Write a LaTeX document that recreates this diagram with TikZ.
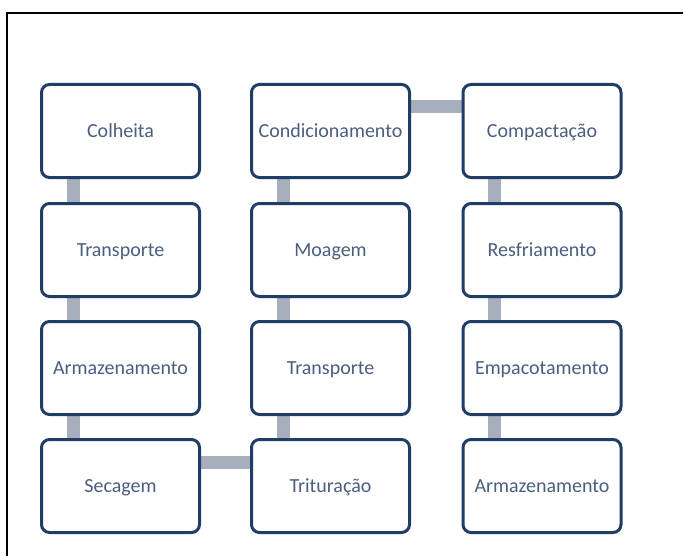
\documentclass[tikz,border=0pt]{standalone}
\usepackage{fontspec}
\setmainfont{Carlito}
\usetikzlibrary{backgrounds}
\definecolor{boxline}{HTML}{1F3D66}
\definecolor{boxtext}{HTML}{4C5E7F}
\definecolor{linkgray}{HTML}{A7AEBC}
\tikzset{
  stage/.style={draw=boxline, line width=3pt, rounded corners=8pt, fill=white,
    minimum width=158pt, minimum height=93pt, inner sep=0pt,
    text height=15pt, text depth=2pt,
    text=boxtext, font=\fontsize{20}{23}\selectfont},
  link/.style={draw=linkgray, line width=13pt}
}
\begin{document}
\begin{tikzpicture}[x=1pt,y=-1pt]
\useasboundingbox (0,0) rectangle (684,556);
% column 1
\node[stage] (c1) at (120.5,131) {Colheita};
\node[stage] (t1) at (120.5,250) {Transporte};
\node[stage] (a1) at (120.5,368) {Armazenamento};
\node[stage] (s1) at (120.5,486) {Secagem};
% column 2
\node[stage] (co) at (330.5,131) {Condicionamento};
\node[stage] (mo) at (330.5,250) {Moagem};
\node[stage] (t2) at (330.5,368) {Transporte};
\node[stage] (tr) at (330.5,486) {Trituração};
% column 3
\node[stage] (cp) at (542,131) {Compactação};
\node[stage] (rf) at (542,250) {Resfriamento};
\node[stage] (em) at (542,368) {Empacotamento};
\node[stage] (a3) at (542,486) {Armazenamento};
\begin{pgfonlayer}{background}
\fill[white] (0,0) rectangle (684,556);
\fill[black] (5.75,11.75) rectangle (8.25,556);
\fill[black] (5.75,11.75) rectangle (683,14.25);
\draw[link] ([xshift=33pt]c1.south west) -- ([xshift=33pt]t1.north west);
\draw[link] ([xshift=33pt]t1.south west) -- ([xshift=33pt]a1.north west);
\draw[link] ([xshift=33pt]a1.south west) -- ([xshift=33pt]s1.north west);
\draw[link] ([yshift=-24pt]s1.north east) -- ([yshift=-24pt]tr.north west);
\draw[link] ([xshift=33pt]tr.north west) -- ([xshift=33pt]t2.south west);
\draw[link] ([xshift=33pt]t2.north west) -- ([xshift=33pt]mo.south west);
\draw[link] ([xshift=33pt]mo.north west) -- ([xshift=33pt]co.south west);
\draw[link] ([yshift=-24pt]co.north east) -- ([yshift=-24pt]cp.north west);
\draw[link] ([xshift=33pt]cp.south west) -- ([xshift=33pt]rf.north west);
\draw[link] ([xshift=33pt]rf.south west) -- ([xshift=33pt]em.north west);
\draw[link] ([xshift=33pt]em.south west) -- ([xshift=33pt]a3.north west);
\end{pgfonlayer}
\end{tikzpicture}
\end{document}
